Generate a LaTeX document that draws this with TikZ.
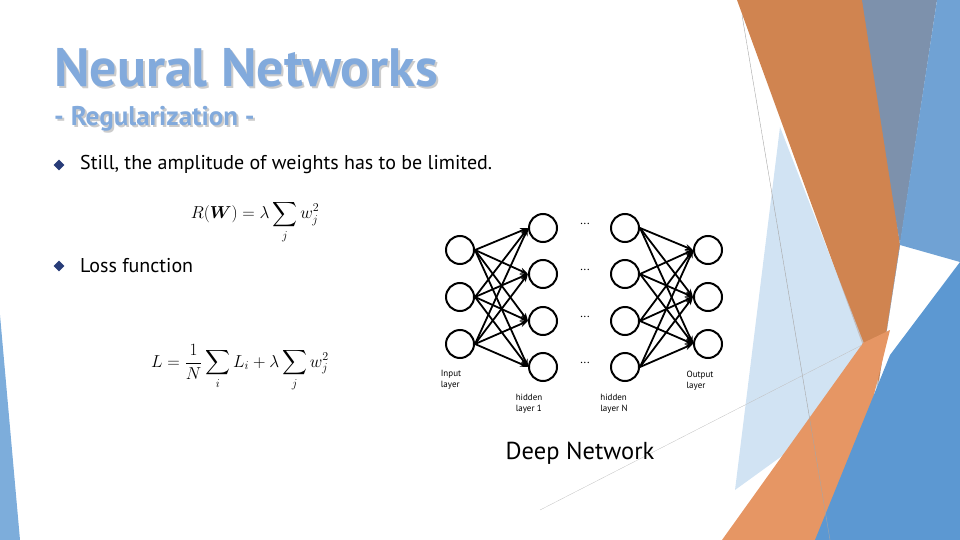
\documentclass[tikz,border=0pt]{standalone}
\usepackage{fontspec}
\usepackage{amsmath}
\setmainfont{PT Sans}
\usetikzlibrary{arrows.meta,shapes.geometric}
\definecolor{orA}{RGB}{208,132,80}
\definecolor{gbB}{RGB}{125,145,172}
\definecolor{blC}{RGB}{112,162,212}
\definecolor{blD}{RGB}{92,152,210}
\definecolor{orE}{RGB}{230,150,100}
\definecolor{lbF}{RGB}{190,215,238}
\definecolor{ttl}{RGB}{130,170,220}
\definecolor{bulc}{RGB}{40,60,120}
\begin{document}
\begin{tikzpicture}[x=1pt,y=-1pt,
  neuron/.style={circle,draw,line width=2pt,minimum size=28pt,inner sep=0pt},
  conn/.style={line width=1.8pt,-{Stealth[length=8pt,width=6pt]}},
  lbl/.style={font=\fontsize{9}{11}\selectfont,align=left,inner sep=0pt},
  bul/.style={diamond,fill=bulc,inner sep=0pt,minimum size=11pt},
  body/.style={font=\fontsize{20}{22}\selectfont,anchor=west,inner sep=0pt}]
\useasboundingbox (0,0) rectangle (960,540);
% decoration
\fill[orA] (737,0)--(866,0)--(900,245)--(878,387)--cycle;
\fill[gbB] (862,0)--(937,0)--(900,245)--cycle;
\fill[blC] (937,0)--(960,0)--(960,262)--(900,245)--(878,387)--cycle;
\fill[lbF,opacity=0.7] (780,127)--(880,385)--(735,490)--cycle;
\fill[orE] (722,540)--(863,343)--(890,330)--(838,540)--cycle;
\fill[blD] (960,262)--(960,540)--(815,540)--(890,355)--cycle;
\fill[blD,opacity=0.8] (0,315)--(20,540)--(0,540)--cycle;
\draw[gray!70,line width=0.4pt] (742,15)--(830,540);
\draw[gray!50,line width=0.3pt] (540,510)--(862,345);
% title
\node[anchor=west,inner sep=0,font=\fontsize{54}{56}\selectfont\bfseries,text=gray!40] at (56,70) {Neural Networks};
\node[anchor=west,inner sep=0,font=\fontsize{54}{56}\selectfont\bfseries,text=ttl] (title) at (54,68) {Neural Networks};
\node[anchor=west,inner sep=0,font=\fontsize{27}{30}\selectfont\bfseries,text=gray!40] at (56,121) {- Regularization -};
\node[anchor=west,inner sep=0,font=\fontsize{27}{30}\selectfont\bfseries,text=ttl] (sub) at (54,119) {- Regularization -};
% bullets
\node[bul] (b1) at (59,165) {};
\node[body] (t1) at (80,165) {Still, the amplitude of weights has to be limited.};
\node[bul] (b2) at (59,266) {};
\node[body] (t2) at (80,266) {Loss function};
\node[font=\fontsize{17}{20}\selectfont] (f1) at (255,222) {$R(\boldsymbol{W}) = \lambda \displaystyle\sum_j w_j^2$};
\node[font=\fontsize{17}{20}\selectfont] (f2) at (240,368) {$L = \dfrac{1}{N}\displaystyle\sum_i L_i + \lambda\displaystyle\sum_j w_j^2$};
% network
\foreach \i/\y in {1/250,2/297,3/344}{
  \node[neuron] (in\i) at (460,\y) {};
  \node[neuron] (out\i) at (708,\y) {};}
\foreach \i/\y in {1/228,2/274,3/321,4/367}{
  \node[neuron] (ha\i) at (543,\y) {};
  \node[neuron] (hn\i) at (625,\y) {};
  \node[font=\fontsize{12}{12}\selectfont] (d\i) at (585,\y-4) {...};}
\foreach \i in {1,2,3}\foreach \j in {1,2,3,4}{
  \draw[conn] (in\i.east) -- (ha\j.west);
  \draw[conn] (hn\j.east) -- (out\i.west);}
\node[lbl] (l1) at (451,380) {Input\\layer};
\node[lbl] (l2) at (529,404) {hidden\\layer 1};
\node[lbl] (l3) at (614,404) {hidden\\layer N};
\node[lbl] (l4) at (700,381) {Output\\layer};
\node[font=\fontsize{24.5}{26}\selectfont] (dn) at (580,453) {Deep Network};
\end{tikzpicture}
\end{document}
